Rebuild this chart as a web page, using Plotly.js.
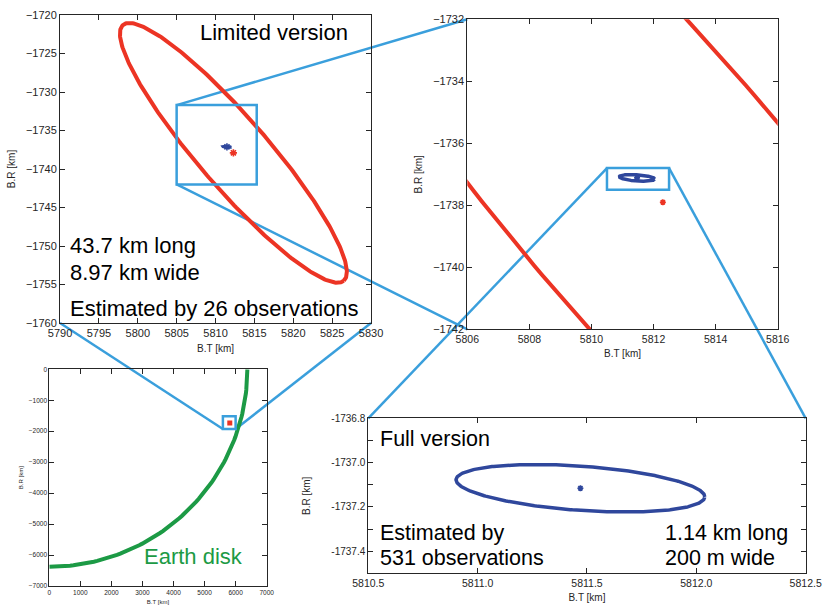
<!DOCTYPE html>
<html>
<head>
<meta charset="utf-8">
<script src="https://cdn.plot.ly/plotly-3.0.1.min.js"></script>
<style>html,body{margin:0;padding:0;background:#fff;}#chart{width:830px;height:606px;}</style>
</head>
<body>
<div id="chart"></div>
<script>
// ---- values ----
const redCenter = [5812.3, -1737.9];          // limited-version estimate (km)
const redSizeKm = [43.7, 8.97];               // long, wide
const redTiltDeg = -49.5;
const blueCenter = [5811.47, -1737.116];      // full-version estimate (km)
const blueSizeKm = [1.14, 0.2];
const blueTiltDeg = -4;
const earthRadiusKm = 6378;

const box1X = [5805, 5815.3];   // zoom box drawn in panel 1
const box1Y = [-1742, -1731.7];
const box2X = [5810.5, 5812.5]; // zoom box drawn in panel 2
const box2Y = [-1737.5, -1736.8];
const box3X = [5590, 6000];     // zoom box drawn in panel 3
const box3Y = [-1930, -1520];

const p1XTicks = [5790, 5795, 5800, 5805, 5810, 5815, 5820, 5825, 5830];
const p1YTicks = [-1760, -1755, -1750, -1745, -1740, -1735, -1730, -1725, -1720];
const p2XTicks = [5806, 5808, 5810, 5812, 5814, 5816];
const p2YTicks = [-1742, -1740, -1738, -1736, -1734, -1732];
const p3XTicks = [0, 1000, 2000, 3000, 4000, 5000, 6000, 7000];
const p3YTicks = [-7000, -6000, -5000, -4000, -3000, -2000, -1000, 0];
const p4XTicks = [5810.5, 5811.0, 5811.5, 5812.0, 5812.5];
const p4YTickVals = [-1737.4, -1737.3, -1737.2, -1737.1, -1737.0, -1736.9, -1736.8];
const p4YTickText = ['-1737.4', '', '-1737.2', '', '-1737.0', '', '-1736.8'];

const ranges = {
  x1: [5790, 5830], y1: [-1760, -1720],
  x2: [5806, 5816], y2: [-1742, -1732],
  x3: [0, 7000],    y3: [-7000, 0],
  x4: [5810.5, 5812.5], y4: [-1737.5, -1736.8]
};
const domains = {
  x1: [0.0723, 0.4470], y1: [0.4670, 0.9752],
  x2: [0.5630, 0.9370], y2: [0.4566, 0.9682],
  x3: [0.0594, 0.3213], y3: [0.0330, 0.3906],
  x4: [0.4437, 0.9707], y4: [0.0540, 0.3097]
};

// ---- helpers ----
function ellipse(center, sizeKm, tiltDeg) {
  const a = sizeKm[0] / 2, b = sizeKm[1] / 2, t = tiltDeg * Math.PI / 180;
  const xs = [], ys = [];
  for (let i = 0; i <= 360; i++) {
    const u = i * Math.PI / 180;
    const ex = a * Math.cos(u), ey = b * Math.sin(u);
    xs.push(center[0] + ex * Math.cos(t) - ey * Math.sin(t));
    ys.push(center[1] + ex * Math.sin(t) + ey * Math.cos(t));
  }
  return {x: xs, y: ys};
}
function arc(r) {
  const xs = [], ys = [];
  for (let i = 0; i <= 90; i++) {
    const u = -i * Math.PI / 180;
    xs.push(r * Math.cos(u)); ys.push(r * Math.sin(u));
  }
  return {x: xs, y: ys};
}
function toPaper(n, x, y) {
  const rx = ranges['x' + n], ry = ranges['y' + n], dx = domains['x' + n], dy = domains['y' + n];
  return [dx[0] + (x - rx[0]) / (rx[1] - rx[0]) * (dx[1] - dx[0]),
          dy[0] + (y - ry[0]) / (ry[1] - ry[0]) * (dy[1] - dy[0])];
}

const RED = '#ec3424', BLUE = '#2f479c', CYAN = '#3a9fdc', GREEN = '#1c9a45', INK = '#262626';
const redE = ellipse(redCenter, redSizeKm, redTiltDeg);
const blueE = ellipse(blueCenter, blueSizeKm, blueTiltDeg);
const earth = arc(earthRadiusKm);

function star(xa, ya, c, pt, size) {
  return {x: [pt[0]], y: [pt[1]], xaxis: xa, yaxis: ya, mode: 'markers',
    marker: {symbol: 'asterisk-open', size: size, color: c, line: {color: c, width: 1.6}}};
}

const traces = [
  // panel 1
  {x: redE.x, y: redE.y, xaxis: 'x', yaxis: 'y', mode: 'lines', line: {color: RED, width: 4}},
  {x: blueE.x, y: blueE.y, xaxis: 'x', yaxis: 'y', mode: 'lines', line: {color: BLUE, width: 2.5}},
  star('x', 'y', BLUE, blueCenter, 6),
  star('x', 'y', RED, redCenter, 6),
  // panel 2
  {x: redE.x, y: redE.y, xaxis: 'x2', yaxis: 'y2', mode: 'lines', line: {color: RED, width: 4}},
  {x: blueE.x, y: blueE.y, xaxis: 'x2', yaxis: 'y2', mode: 'lines', line: {color: BLUE, width: 3.5}},
  star('x2', 'y2', BLUE, blueCenter, 5),
  star('x2', 'y2', RED, redCenter, 5),
  // panel 3
  {x: earth.x, y: earth.y, xaxis: 'x3', yaxis: 'y3', mode: 'lines', line: {color: GREEN, width: 4}},
  {x: [redCenter[0]], y: [redCenter[1]], xaxis: 'x3', yaxis: 'y3', mode: 'markers',
   marker: {symbol: 'square', size: 5, color: RED}},
  // panel 4
  {x: blueE.x, y: blueE.y, xaxis: 'x4', yaxis: 'y4', mode: 'lines', line: {color: BLUE, width: 3.5}},
  star('x4', 'y4', BLUE, blueCenter, 5)
];

const FONT = 'Liberation Sans, Arial, Helvetica, sans-serif';
function ax(n, tickvals, ticktext, fs, title, tfs, extra) {
  const o = {
    domain: domains[(extra.dim) + n], range: ranges[(extra.dim) + n],
    anchor: (extra.dim === 'x' ? 'y' : 'x') + (n === 1 ? '' : n),
    showline: true, linecolor: INK, linewidth: 1, mirror: 'ticks',
    ticks: 'inside', ticklen: 5, tickcolor: INK, tickwidth: 1,
    showgrid: false, zeroline: false, tickmode: 'array', tickvals: tickvals,
    tickfont: {family: FONT, size: fs, color: INK},
    title: {text: title, font: {family: FONT, size: tfs, color: INK}, standoff: extra.standoff},
    automargin: false, fixedrange: true
  };
  if (ticktext) o.ticktext = ticktext;
  if (extra.tickformat) o.tickformat = extra.tickformat;
  return o;
}

const shapes = [];
function rect(n, bx, by) {
  shapes.push({type: 'rect', xref: 'x' + (n === 1 ? '' : n), yref: 'y' + (n === 1 ? '' : n),
    x0: bx[0], x1: bx[1], y0: by[0], y1: by[1], line: {color: CYAN, width: 2.5}, layer: 'above'});
}
function link(a, b) {
  shapes.push({type: 'line', xref: 'paper', yref: 'paper', x0: a[0], y0: a[1], x1: b[0], y1: b[1],
    line: {color: CYAN, width: 2.5}, layer: 'below'});
}
rect(1, box1X, box1Y);
rect(2, box2X, box2Y);
rect(3, box3X, box3Y);
link(toPaper(1, box1X[0], box1Y[1]), toPaper(2, ranges.x2[0], ranges.y2[1]));
link(toPaper(1, box1X[0], box1Y[0]), toPaper(2, ranges.x2[0], ranges.y2[0]));
link(toPaper(3, box3X[0], box3Y[0]), toPaper(1, ranges.x1[0], ranges.y1[0]));
link(toPaper(3, box3X[1], box3Y[0]), toPaper(1, ranges.x1[1], ranges.y1[0]));
link(toPaper(2, box2X[0], box2Y[1]), toPaper(4, ranges.x4[0], ranges.y4[1]));
link(toPaper(2, box2X[1], box2Y[1]), toPaper(4, ranges.x4[1], ranges.y4[1]));

function note(n, x, y, text, xanchor, color, size) {
  return {xref: 'x' + (n === 1 ? '' : n), yref: 'y' + (n === 1 ? '' : n), x: x, y: y, text: text,
    showarrow: false, xanchor: xanchor, yanchor: 'middle',
    font: {family: FONT, size: size || 22, color: color || '#000'}};
}
const annotations = [
  note(1, 5807.75, -1722.3, 'Limited version', 'left'),
  note(1, 5791.0, -1749.9, '43.7 km long', 'left'),
  note(1, 5791.0, -1753.4, '8.97 km wide', 'left'),
  note(1, 5791.0, -1758.1, 'Estimated by 26 observations', 'left'),
  note(3, 2985, -6037, 'Earth disk', 'left', GREEN),
  note(4, 5810.544, -1736.894, 'Full version', 'left', null, 21.5),
  note(4, 5810.544, -1737.316, 'Estimated by', 'left', null, 21.5),
  note(4, 5810.544, -1737.433, '531 observations', 'left', null, 21.5),
  note(4, 5811.847, -1737.316, '1.14 km long', 'left', null, 21.5),
  note(4, 5811.847, -1737.433, '200 m wide', 'left', null, 21.5)
];

const layout = {
  width: 830, height: 606, margin: {l: 0, r: 0, t: 0, b: 0},
  paper_bgcolor: '#fff', plot_bgcolor: 'rgba(0,0,0,0)', showlegend: false,
  font: {family: FONT, color: INK},
  xaxis: ax(1, p1XTicks, null, 11, 'B.T [km]', 10, {dim: 'x', standoff: 6}),
  yaxis: ax(1, p1YTicks, null, 11, 'B.R [km]', 10, {dim: 'y', standoff: 8}),
  xaxis2: ax(2, p2XTicks, null, 10.5, 'B.T [km]', 10, {dim: 'x', standoff: 6}),
  yaxis2: ax(2, p2YTicks, null, 11, 'B.R [km]', 10, {dim: 'y', standoff: 8}),
  xaxis3: ax(3, p3XTicks, null, 6.5, 'B.T [km]', 6, {dim: 'x', standoff: 4}),
  yaxis3: ax(3, p3YTicks, null, 6.5, 'B.R [km]', 6, {dim: 'y', standoff: 4}),
  xaxis4: ax(4, p4XTicks, null, 10.5, 'B.T [km]', 10, {dim: 'x', standoff: 6, tickformat: '.1f'}),
  yaxis4: ax(4, p4YTickVals, p4YTickText, 10, 'B.R [km]', 10, {dim: 'y', standoff: 18}),
  shapes: shapes, annotations: annotations
};

Plotly.newPlot('chart', traces, layout, {staticPlot: true, displayModeBar: false});
</script>
</body>
</html>
